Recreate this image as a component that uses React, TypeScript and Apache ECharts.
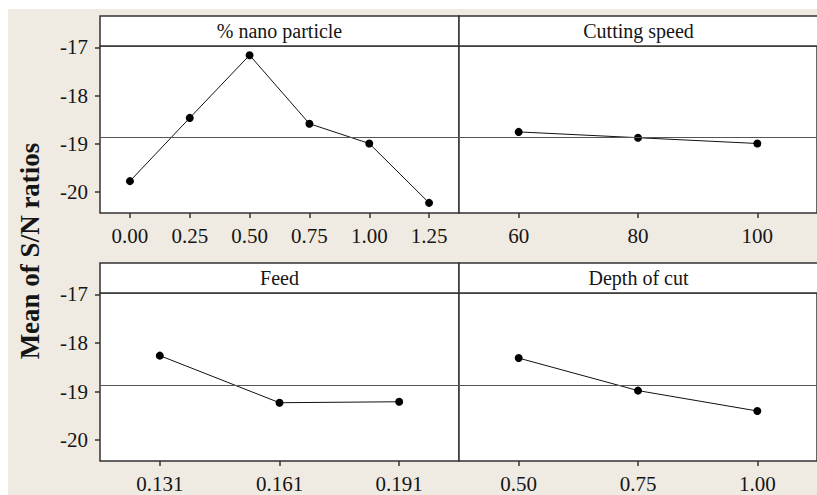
import React, { useEffect, useRef } from "react";
import * as echarts from "echarts";

// ---- Data ----
const nanoLevels = ["0.00", "0.25", "0.50", "0.75", "1.00", "1.25"];
const nanoSN = [-19.77, -18.46, -17.16, -18.58, -18.99, -20.22];

const speedLevels = ["60", "80", "100"];
const speedSN = [-18.75, -18.87, -18.99];

const feedLevels = ["0.131", "0.161", "0.191"];
const feedSN = [-18.26, -19.23, -19.21];

const docLevels = ["0.50", "0.75", "1.00"];
const docSN = [-18.31, -18.98, -19.4];

const panelTitles = ["% nano particle", "Cutting speed", "Feed", "Depth of cut"];
const yTicks = [-20, -19, -18, -17];
const GRAND_MEAN = -18.87;
const Y_MIN = -20.43;
const Y_MAX = -16.97;

const FONT = "'Liberation Serif', 'Times New Roman', serif";
const BORDER = "#333333";
const TEXT = "#151515";

export default function App() {
  const ref = useRef<HTMLDivElement>(null);

  useEffect(() => {
    if (!ref.current) return;
    const chart = echarts.init(ref.current, undefined, { renderer: "svg" });

    // panel geometry (chart coordinates; chart div sits at page (8,9))
    const lefts = [92, 451, 92, 451];
    const tops = [37, 37, 284, 284];
    const heights = [167, 167, 168, 168];
    const W = 359;
    const HEADER = 30;

    const cats = [nanoLevels, speedLevels, feedLevels, docLevels];
    const vals = [nanoSN, speedSN, feedSN, docSN];

    const grids = lefts.map((l, i) => ({
      left: l,
      top: tops[i],
      width: W,
      height: heights[i],
      show: true,
      backgroundColor: "#ffffff",
      borderColor: BORDER,
      borderWidth: 1.5,
      containLabel: false,
    }));

    const xAxes = cats.map((c, i) => ({
      type: "category",
      gridIndex: i,
      data: c,
      boundaryGap: true,
      axisLine: { show: false },
      axisTick: {
        show: true,
        alignWithLabel: true,
        length: 5,
        lineStyle: { color: BORDER, width: 1.5 },
      },
      axisLabel: {
        color: TEXT,
        fontFamily: FONT,
        fontSize: 21,
        margin: 12,
      },
      splitLine: { show: false },
    }));

    const yAxes = cats.map((_, i) => {
      const leftCol = i % 2 === 0;
      return {
        type: "value",
        gridIndex: i,
        min: Y_MIN,
        max: Y_MAX,
        axisLine: { show: false },
        splitLine: { show: false },
        axisTick: {
          show: leftCol,
          length: 5,
          customValues: yTicks,
          lineStyle: { color: BORDER, width: 1.5 },
        },
        axisLabel: {
          show: leftCol,
          customValues: yTicks,
          color: TEXT,
          fontFamily: FONT,
          fontSize: 21,
          margin: 12,
          formatter: (v: number) => String(Math.round(v)),
        },
      };
    });

    const series = vals.map((v, i) => ({
      type: "line",
      xAxisIndex: i,
      yAxisIndex: i,
      data: v,
      symbol: "circle",
      symbolSize: 8,
      showSymbol: true,
      lineStyle: { color: "#111111", width: 1 },
      itemStyle: { color: "#000000" },
      markLine: {
        silent: true,
        symbol: "none",
        label: { show: false },
        lineStyle: { color: "#555555", width: 1.2, type: "solid" },
        data: [{ yAxis: GRAND_MEAN }],
      },
    }));

    const graphics: any[] = [];
    lefts.forEach((l, i) => {
      graphics.push({
        type: "rect",
        shape: { x: l, y: tops[i] - HEADER, width: W, height: HEADER },
        style: { fill: "#ffffff", stroke: BORDER, lineWidth: 1.5 },
        z: 10,
      });
      graphics.push({
        type: "text",
        x: l + W / 2,
        y: tops[i] - HEADER / 2,
        style: {
          text: panelTitles[i],
          fill: TEXT,
          font: `20px ${FONT}`,
          align: "center",
          verticalAlign: "middle",
        },
        z: 11,
      });
    });
    graphics.push({
      type: "text",
      x: 22,
      y: 242,
      rotation: Math.PI / 2,
      style: {
        text: "Mean of S/N ratios",
        fill: TEXT,
        font: `bold 27px ${FONT}`,
        align: "center",
        verticalAlign: "middle",
      },
      z: 11,
    });

    chart.setOption({
      animation: false,
      backgroundColor: "#EFEBE2",
      grid: grids,
      xAxis: xAxes,
      yAxis: yAxes,
      series,
      graphic: graphics,
    });

    return () => chart.dispose();
  }, []);

  return (
    <div
      style={{
        position: "fixed",
        left: 8,
        top: 9,
        width: 809,
        height: 486,
        overflow: "hidden",
      }}
    >
      <div ref={ref} style={{ width: 809, height: 486 }} />
    </div>
  );
}
